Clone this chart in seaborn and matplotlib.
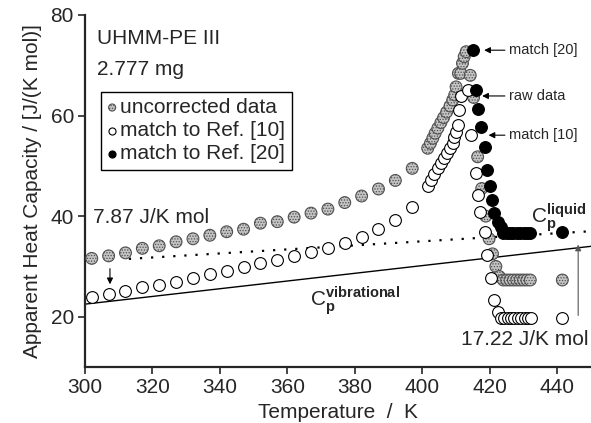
import numpy as np
import pandas as pd
import matplotlib
matplotlib.use('Agg')
import matplotlib.pyplot as plt
import seaborn as sns

sns.set_style('ticks')
plt.rcParams['font.family'] = ['Liberation Sans', 'DejaVu Sans']
plt.rcParams['mathtext.fontset'] = 'custom'
plt.rcParams['mathtext.rm'] = 'Liberation Sans'
plt.rcParams['mathtext.bf'] = 'Liberation Sans:bold'
plt.rcParams['hatch.linewidth'] = 0.6

# uncorrected (raw) data
raw_T = [302, 307, 312, 317, 322, 327, 332, 337, 342, 347, 352, 357, 362, 367, 372,
         377, 382, 387, 392, 397,
         401.6, 402.4, 403.1, 403.8, 404.6, 405.5, 406.3, 407.2, 408.2, 409.0, 409.6,
         410.0, 410.7, 411.4, 411.9, 412.4, 413.0,
         414.2, 415.2, 416.4, 417.6, 418.8, 419.8, 420.8, 421.8, 422.8,
         424, 425, 426, 427, 428, 429, 430, 431, 432, 441.5]
raw_cp = [31.6, 32.1, 32.7, 33.6, 34.1, 34.9, 35.5, 36.2, 36.9, 37.4, 38.6, 38.9, 39.8, 40.6, 41.4,
          42.7, 44.0, 45.4, 47.1, 49.5,
          53.5, 54.5, 55.5, 56.5, 57.5, 58.6, 59.6, 60.7, 61.9, 63.1, 64.1,
          65.7, 68.4, 68.4, 70.4, 71.7, 72.7,
          68.0, 63.6, 51.8, 45.5, 40.0, 35.5, 32.5, 30.0, 28.0,
          27.3, 27.3, 27.3, 27.3, 27.3, 27.3, 27.3, 27.3, 27.3, 27.3]

# match to Ref. [10]
m10_T = [302, 307, 312, 317, 322, 327, 332, 337, 342, 347, 352, 357, 362, 367, 372,
         377, 382, 387, 392, 397,
         401.6, 402.6, 403.6, 404.5, 405.5, 406.5, 407.3, 408.3, 409.0, 409.5, 410.0,
         410.5, 410.9, 411.4, 413.4,
         414.4, 415.9, 416.4, 417.2, 418.5, 419.3, 420.3, 421.3, 422.3,
         423.3, 424.3, 425.3, 426.3, 427.3, 428.3, 429.3, 430.3, 431.3, 432.2, 441.5]
m10_cp = [23.9, 24.5, 25.1, 25.9, 26.3, 27.0, 27.6, 28.4, 29.1, 29.8, 30.6, 31.2, 32.1, 32.9, 33.6,
          34.6, 35.8, 37.4, 39.2, 41.9,
          45.9, 47.2, 48.4, 49.5, 50.5, 51.5, 52.5, 53.5, 54.5, 55.8, 56.8,
          58.1, 61.1, 63.8, 65.1,
          56.1, 48.5, 44.2, 40.9, 36.8, 32.3, 27.7, 23.3, 21.0,
          19.7, 19.7, 19.7, 19.7, 19.7, 19.7, 19.7, 19.7, 19.7, 19.7, 19.7]

# match to Ref. [20]
m20_T = [415.1, 415.9, 416.4, 417.4, 418.6, 419.3, 420.0, 420.8, 421.3, 422.3, 423.3,
         424, 425, 426, 427, 428, 429, 430, 431, 432, 441.5]
m20_cp = [73.0, 65.1, 61.3, 57.8, 53.8, 49.2, 46.0, 43.2, 40.6, 38.9, 37.9,
          36.6, 36.6, 36.6, 36.6, 36.6, 36.6, 36.6, 36.6, 36.6, 36.8]

# baselines
liquid_T = [313, 450]
liquid_cp = [31.5, 37.0]
vib_T = [300, 450]
vib_cp = [22.5, 34.0]

raw = pd.DataFrame({'T': raw_T, 'cp': raw_cp})
m10 = pd.DataFrame({'T': m10_T, 'cp': m10_cp})
m20 = pd.DataFrame({'T': m20_T, 'cp': m20_cp})

fig = plt.figure(figsize=(5.91, 4.23), dpi=100)
ax = fig.add_axes([85 / 591, 56 / 423, 506 / 591, 352 / 423])

sns.lineplot(x=liquid_T, y=liquid_cp, ax=ax, color='k', lw=1.6, linestyle=(0, (1, 4)))
sns.lineplot(x=vib_T, y=vib_cp, ax=ax, color='k', lw=1.0)

sns.scatterplot(data=raw, x='T', y='cp', ax=ax, s=72, color='#c4c4c4', edgecolor='#505050',
                linewidth=0.8, hatch='......', label='uncorrected data', zorder=3)
sns.scatterplot(data=m10, x='T', y='cp', ax=ax, s=72, color='white', edgecolor='k',
                linewidth=0.8, label='match to Ref. [10]', zorder=4)
sns.scatterplot(data=m20, x='T', y='cp', ax=ax, s=72, color='black', edgecolor='k',
                linewidth=0.8, label='match to Ref. [20]', zorder=5)

ax.set_xlim(300, 450)
ax.set_ylim(10, 80)
ax.set_xticks(np.arange(300, 441, 20))
ax.set_yticks([20, 40, 60, 80])
ax.tick_params(labelsize=15, length=5, width=1.2, direction='out', pad=3)
for side in ['top', 'right']:
    ax.spines[side].set_visible(False)
for side in ['left', 'bottom']:
    ax.spines[side].set_linewidth(1.6)
ax.set_xlabel('Temperature  /  K', fontsize=15, labelpad=4)
ax.set_ylabel('Apparent Heat Capacity / [J/(K mol)]', fontsize=15, labelpad=6)

leg = ax.legend(loc='upper left', bbox_to_anchor=(0.031, 0.782), fontsize=15,
                frameon=True, fancybox=False, edgecolor='k', framealpha=1,
                markerscale=0.6, handlelength=0.5, handletextpad=0.15,
                borderpad=0.3, labelspacing=0.2, borderaxespad=0)
leg.get_frame().set_linewidth(1.0)

ax.text(303.6, 75.4, 'UHMM-PE III', fontsize=15, va='center', ha='left')
ax.text(303.6, 69.1, '2.777 mg', fontsize=15, va='center', ha='left')
ax.text(302.4, 39.8, '7.87 J/K mol', fontsize=15, va='center', ha='left')
ax.text(430.3, 15.4, '17.22 J/K mol', fontsize=15, va='center', ha='center')
ax.text(366.6, 22.0, r'$\mathregular{C}_\mathbf{p}^\mathbf{vibrational}$', fontsize=15,
        va='baseline', ha='left')
ax.text(432.2, 38.6, r'$\mathregular{C}_\mathbf{p}^\mathbf{liquid}$', fontsize=15,
        va='baseline', ha='left')

arrow = dict(arrowstyle='-|>', color='k', lw=0.8, mutation_scale=9)
ax.annotate('', xy=(307.4, 25.9), xytext=(307.4, 30.1), arrowprops=arrow)
ax.annotate('', xy=(446.2, 34.9), xytext=(446.2, 19.7),
            arrowprops=dict(arrowstyle='-|>', color='#555555', lw=0.8, mutation_scale=9))
for label, tip_T, tip_cp in [('match [20]', 417.5, 73.0),
                             ('raw data', 416.9, 63.9),
                             ('match [10]', 418.8, 56.1)]:
    ax.annotate('', xy=(tip_T, tip_cp), xytext=(425.3, tip_cp), arrowprops=arrow)
    ax.text(425.7, tip_cp, label, fontsize=10.5, va='center', ha='left')

fig.savefig('out.png', dpi=100)
